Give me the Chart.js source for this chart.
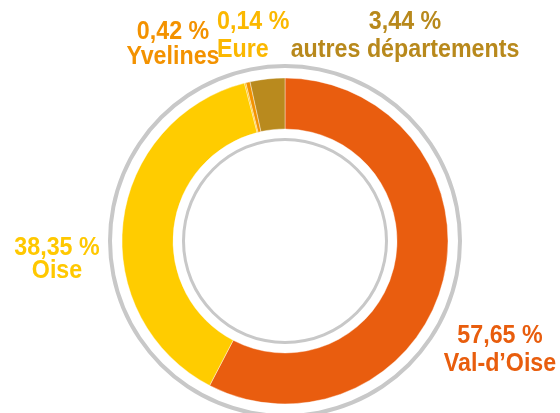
<!DOCTYPE html>
<html>
<head>
<meta charset="utf-8">
<script src="https://cdn.jsdelivr.net/npm/chart.js@4"></script>
<style>
  html, body { margin: 0; padding: 0; background: #fff; overflow: hidden; }
  #wrap { width: 560px; height: 420px; position: relative; }
</style>
</head>
<body>
<div id="wrap"><canvas id="ringChart"></canvas></div>
<script>
// data
const categories = ['Val-d’Oise', 'Oise', 'Eure', 'Yvelines', 'autres départements'];
const shares = [57.65, 38.35, 0.14, 0.42, 3.44];
const sliceColors = ['#e95d0f', '#ffcc00', '#fbbb00', '#f39200', '#b98a1e'];
const textColors = ['#e85d0d', '#ffc800', '#fbb800', '#f39200', '#b8891c'];

// where each label sits (x, first baseline, second baseline, alignment)
const labelLayout = [
    { x: 500, y1: 343, y2: 371, align: 'center' },
    { x: 57, y1: 255, y2: 278, align: 'center' },
    { x: 217, y1: 29, y2: 57, align: 'left' },
    { x: 173, y1: 39, y2: 64, align: 'center' },
    { x: 405, y1: 29, y2: 57, align: 'center' }
];

const grey = '#c8c8c8';
const squeeze = 0.93; // the original type is a condensed face

function fmt(v) {
    return v.toFixed(2).replace('.', ',') + ' %';
}

function narrowText(c, text, x, y) {
    c.save();
    c.translate(x, y);
    c.scale(squeeze, 1);
    c.fillText(text, 0, 0);
    c.restore();
}

const labelPlugin = {
    id: 'sliceLabels',
    afterDraw(chart) {
        const c = chart.ctx;
        c.save();
        c.font = 'bold 25px "Liberation Sans", Arial, sans-serif';
        c.textBaseline = 'alphabetic';
        categories.forEach((name, i) => {
            const p = labelLayout[i];
            c.fillStyle = textColors[i];
            c.textAlign = p.align;
            narrowText(c, fmt(shares[i]), p.x, p.y1);
            narrowText(c, name, p.x, p.y2);
        });
        c.restore();
    }
};

const ring = (color, w) => ({
    data: [1],
    backgroundColor: [color],
    borderWidth: 0,
    weight: w
});

const ctx = document.getElementById('ringChart').getContext('2d');
const ringChart = new Chart(ctx, {
    type: 'doughnut',
    data: {
        labels: categories,
        datasets: [
            ring(grey, 4),
            ring('rgba(0,0,0,0)', 10),
            {
                data: shares,
                backgroundColor: sliceColors,
                borderColor: '#ffffff',
                borderWidth: 0.4,
                weight: 51
            },
            ring('rgba(0,0,0,0)', 9),
            ring(grey, 3)
        ]
    },
    options: {
        responsive: true,
        maintainAspectRatio: false,
        animation: false,
        cutout: 100,
        layout: { padding: { top: 64, bottom: 2, left: 108, right: 98 } },
        plugins: {
            legend: { display: false },
            tooltip: { enabled: false }
        }
    },
    plugins: [labelPlugin]
});
</script>
</body>
</html>
